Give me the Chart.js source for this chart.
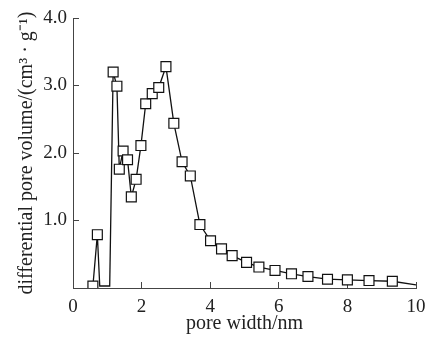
<!DOCTYPE html>
<html>
<head>
<meta charset="utf-8">
<script src="https://cdn.jsdelivr.net/npm/chart.js@4/dist/chart.umd.min.js"></script>
<style>
  body { margin: 0; background: #fff; }
</style>
</head>
<body>
<canvas id="myChart" width="430" height="337"></canvas>
<script>
var poreWidth = [0.58, 0.71, 0.78, 1.07, 1.17, 1.28, 1.35, 1.46, 1.59, 1.70, 1.84, 1.98, 2.12, 2.31, 2.50, 2.71,
                 2.94, 3.18, 3.42, 3.70, 4.01, 4.33, 4.64, 5.06, 5.42, 5.89, 6.37, 6.85, 7.42, 8.00, 8.63, 9.31, 10.0];
var poreVolume = [0.03, 0.79, 0.03, 0.03, 3.20, 2.99, 1.76, 2.03, 1.90, 1.35, 1.61, 2.11, 2.73, 2.88, 2.97, 3.28,
                  2.44, 1.87, 1.66, 0.94, 0.70, 0.58, 0.48, 0.38, 0.31, 0.26, 0.21, 0.17, 0.13, 0.12, 0.11, 0.10, 0.045];
// points along the line that carry no square marker
var unmarked = [2, 3, 32];

var xTitle = "pore width/nm";
var yTitle = "differential pore volume/(cm³ · g⁻¹)";

var points = [];
for (let i = 0; i < poreWidth.length; i++) {
    points.push({ x: poreWidth[i], y: poreVolume[i] });
}

var serif = "'Liberation Serif', 'Times New Roman', serif";
var ink = "#222";

new Chart("myChart", {
    type: "scatter",
    data: {
        datasets: [{
            data: points,
            showLine: true,
            borderColor: "#111",
            borderWidth: 1.3,
            pointStyle: "rect",
            pointRadius: function (ctx) { return unmarked.includes(ctx.dataIndex) ? 0 : 7; },
            pointBackgroundColor: "#fff",
            pointBorderColor: "#111",
            pointBorderWidth: 1.2
        }]
    },
    options: {
        responsive: false,
        animation: false,
        layout: { padding: { left: 0, right: 14, top: 18, bottom: 0 } },
        plugins: {
            legend: { display: false },
            tooltip: { enabled: false }
        },
        scales: {
            x: {
                type: "linear",
                min: 0,
                max: 10,
                afterFit: function (s) { s.height = 49; s.paddingLeft = 0; s.paddingRight = 0; },
                border: { display: true, color: "#444", width: 1 },
                grid: { drawOnChartArea: false, tickLength: -6, color: "#444" },
                ticks: {
                    stepSize: 2,
                    padding: 14,
                    color: ink,
                    font: { family: serif, size: 19 },
                    maxRotation: 0
                },
                title: {
                    display: true,
                    text: xTitle,
                    color: ink,
                    font: { family: serif, size: 20 },
                    padding: { top: 1, bottom: 1 }
                }
            },
            y: {
                min: 0,
                max: 4,
                afterFit: function (s) { s.width = 73; s.paddingTop = 0; s.paddingBottom = 0; },
                border: { display: true, color: "#444", width: 1 },
                grid: { drawOnChartArea: false, tickLength: -6, color: "#444" },
                ticks: {
                    stepSize: 1,
                    padding: 12,
                    color: ink,
                    font: { family: serif, size: 19 },
                    callback: function (v) { return v === 0 ? "" : v.toFixed(1); }
                },
                title: {
                    display: true,
                    text: yTitle,
                    color: ink,
                    font: { family: serif, size: 20 },
                    padding: { top: 15, bottom: 0 }
                }
            }
        }
    }
});
</script>
</body>
</html>
